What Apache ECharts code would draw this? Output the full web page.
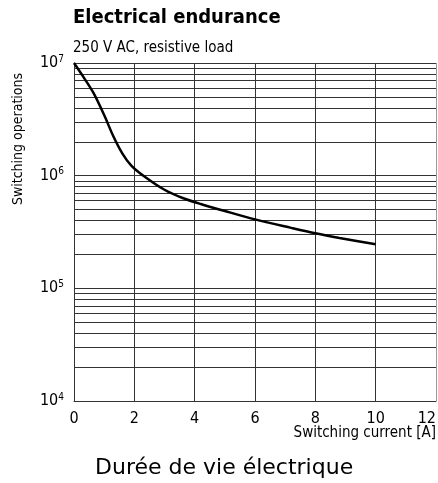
<!DOCTYPE html>
<html>
<head>
<meta charset="utf-8">
<script src="https://cdn.jsdelivr.net/npm/echarts@6/dist/echarts.min.js"></script>
<style>html,body{margin:0;padding:0;background:#fff;}#c{width:438px;height:483px;}</style>
</head>
<body>
<div id="c"></div>
<script>
var titleText = 'Electrical endurance';
var subtitleText = '250 V AC, resistive load';
var footerText = 'Durée de vie électrique';
var xAxisName = 'Switching current [A]';
var yAxisName = 'Switching operations';
var xTicks = [0, 2, 4, 6, 8, 10, 12];
var yTicks = [1e4, 1e5, 1e6, 1e7];
var currentA = [0, 0.3, 0.65, 1.0, 1.3, 1.6, 1.9, 2.3, 3.0, 3.6, 4.2, 5.0, 6.0, 7.2, 8.0, 8.8, 10];
var operations = [1e7, 7.6e6, 5.4e6, 3.45e6, 2.25e6, 1.58e6, 1.23e6, 1.0e6, 7.5e5, 6.34e5, 5.61e5, 4.86e5, 4.09e5, 3.44e5, 3.08e5, 2.8e5, 2.46e5];

var NARROW = '"Liberation Sans Narrow", "DejaVu Sans Condensed", "Arial Narrow", sans-serif';
var chart = echarts.init(document.getElementById('c'));
var pts = currentA.map(function (x, i) { return [x, operations[i]]; });
chart.setOption({
  animation: false,
  title: [{
    text: titleText,
    subtext: subtitleText,
    left: 73, top: 8, itemGap: 13, padding: 0,
    textStyle: { fontFamily: NARROW, fontSize: 20, fontWeight: 'bold', color: '#000' },
    subtextStyle: { fontFamily: NARROW, fontSize: 15, color: '#000' }
  }, {
    text: footerText,
    left: 95, top: 457, padding: 0,
    textStyle: { fontFamily: '"DejaVu Sans", sans-serif', fontSize: 22, fontWeight: 'normal', color: '#000' }
  }],
  graphic: [{
    type: 'text',
    x: 18, y: 139, rotation: Math.PI / 2,
    style: { text: yAxisName, font: '14px ' + NARROW, fill: '#000', textAlign: 'center', textVerticalAlign: 'middle' }
  }, {
    type: 'text',
    x: 436, y: 441,
    style: { text: xAxisName, font: '15px ' + NARROW, fill: '#000', textAlign: 'right', textVerticalAlign: 'bottom' }
  }],
  grid: { left: 74, right: 2, top: 63, bottom: 82, outerBoundsMode: 'none', containLabel: false },
  xAxis: {
    type: 'value', min: xTicks[0], max: xTicks[xTicks.length - 1], interval: 2,
    axisLine: { show: true, lineStyle: { color: '#333', width: 1 } },
    axisTick: { show: false },
    axisLabel: { fontFamily: NARROW, fontSize: 16, color: '#000', margin: 10, alignMaxLabel: 'right' },
    splitLine: { show: true, lineStyle: { color: ['#333', '#333', '#333', '#333', '#333', '#333', '#999'], width: 1 } }
  },
  yAxis: {
    type: 'log', logBase: 10, min: yTicks[0], max: yTicks[yTicks.length - 1],
    axisLine: { show: true, lineStyle: { color: '#333', width: 1 } },
    axisTick: { show: false },
    minorTick: { show: false, splitNumber: 9 },
    axisLabel: {
      margin: 10, color: '#000', fontFamily: NARROW, fontSize: 16,
      formatter: function (v) { return '10{s|' + Math.round(Math.log10(v)) + '}'; },
      rich: { s: { fontFamily: NARROW, fontSize: 10, color: '#000', padding: [0, 0, 8, 0] } }
    },
    splitLine: { show: true, lineStyle: { color: '#333', width: 1 } },
    minorSplitLine: { show: true, lineStyle: { color: '#333', width: 1 } }
  },
  series: [{
    type: 'line', data: pts, smooth: 0.3, showSymbol: false,
    lineStyle: { color: '#000', width: 2.5 }
  }]
});
</script>
</body>
</html>
